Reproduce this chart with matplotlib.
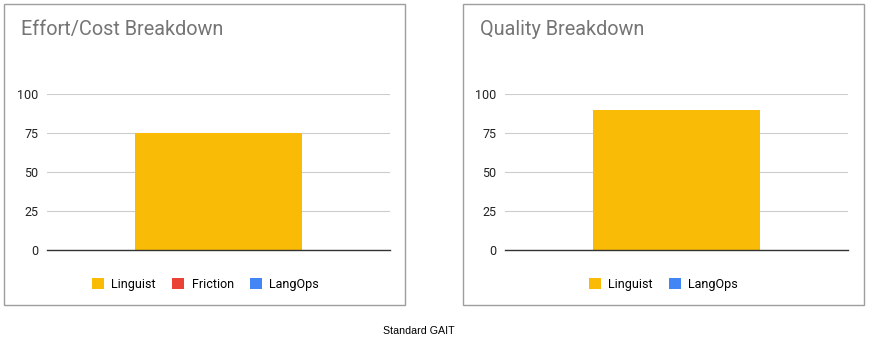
import matplotlib.pyplot as plt
from matplotlib.patches import Rectangle, Patch

# Chart data
effort_series = ['Linguist', 'Friction', 'LangOps']
effort_values = [75, 0, 0]
quality_series = ['Linguist', 'LangOps']
quality_values = [90, 0]
series_colors = {'Linguist': '#f9bb06', 'Friction': '#ea4335', 'LangOps': '#4285f4'}
y_ticks = [0, 25, 50, 75, 100]
caption = 'Standard GAIT'

W, H = 870, 346
plt.rcParams['font.family'] = ['Roboto', 'DejaVu Sans']
fig = plt.figure(figsize=(W / 100, H / 100), dpi=100)


def px(x, y, w, h):
    # pixel box (top-left origin) -> figure fraction
    return [x / W, 1 - (y + h) / H, w / W, h / H]


def panel(box_x, ax_x, title, series, values):
    # panel border
    fig.patches.append(Rectangle((box_x / W, 1 - 305 / H), 401 / W, 301 / H,
                                 transform=fig.transFigure, fill=False,
                                 edgecolor='#9e9e9e', linewidth=1.0))
    fig.text((box_x + 17) / W, 1 - 35 / H, title, fontsize=14.3, color='#757575', va='baseline')

    ax = fig.add_axes(px(ax_x, 94, 343, 156))
    bottom = 0
    for name, val in zip(series, values):
        ax.bar(0, val, width=0.484, bottom=bottom, color=series_colors[name], label=name)
        bottom += val
    ax.set_xlim(-0.5, 0.5)
    ax.set_ylim(0, 100)
    ax.set_yticks(y_ticks)
    ax.set_xticks([])
    ax.tick_params(axis='y', length=0, pad=6, labelsize=9, labelcolor='#222222')
    ax.grid(axis='y', color='#cccccc', linewidth=0.8)
    ax.set_axisbelow(True)
    for s in ['top', 'right', 'left']:
        ax.spines[s].set_visible(False)
    ax.spines['bottom'].set_color('#333333')
    ax.spines['bottom'].set_linewidth(1.0)
    ax.spines['bottom'].set_zorder(3)

    handles = [Patch(facecolor=series_colors[n], label=n) for n in series]
    ax.legend(handles=handles, loc='center', bbox_to_anchor=(0.462, -0.22),
              ncol=len(series), frameon=False, fontsize=9,
              handlelength=0.95, handleheight=0.95, handletextpad=0.6,
              columnspacing=1.3, borderaxespad=0)
    return ax


panel(4, 47, 'Effort/Cost Breakdown', effort_series, effort_values)
panel(463, 505, 'Quality Breakdown', quality_series, quality_values)

fig.text(419 / W, 1 - 334 / H, caption, fontsize=7.7, family=['Liberation Sans', 'DejaVu Sans'],
         ha='center', va='baseline', color='black')

fig.savefig('out.png', dpi=100)
